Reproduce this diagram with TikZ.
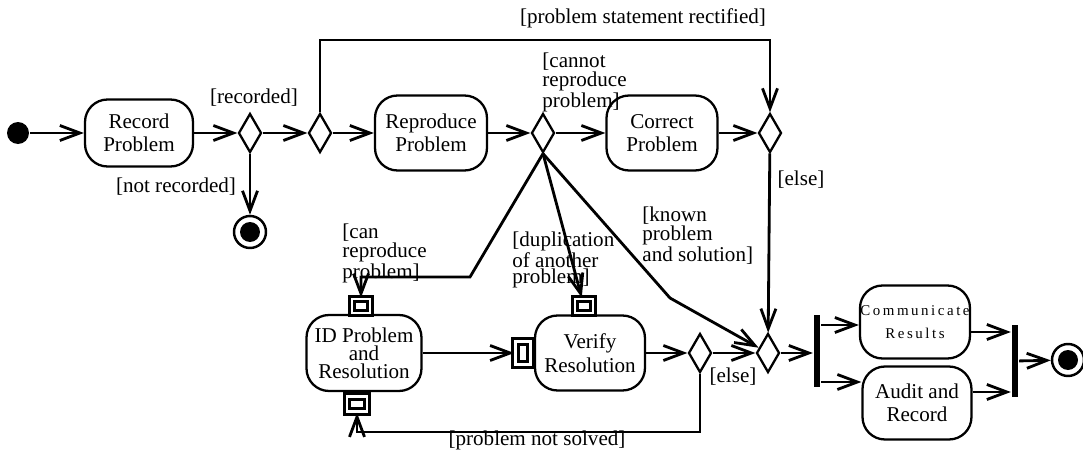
\documentclass[tikz,border=0pt]{standalone}
\usepackage{fontspec}
\setmainfont{Liberation Serif}
\usetikzlibrary{arrows.meta,shapes.geometric}

\begin{document}
\begin{tikzpicture}[x=0.02cm,y=-0.02cm,>={Straight Barb[length=4mm,width=3mm]},
  line width=1.6pt,font=\fontsize{12}{13}\selectfont,
  action/.style={draw,line width=1.3pt,rounded corners=0.45cm,align=center,inner sep=0pt},
  choice/.style={diamond,draw,line width=1.3pt,inner sep=0pt,minimum width=0.46cm,minimum height=0.78cm,fill=white},
  pin/.style={draw,double,double distance=1.5pt,line width=1.6pt,inner sep=0pt,fill=white},
  bar/.style={fill,inner sep=0pt,minimum width=0.11cm,minimum height=1.46cm},
  guard/.style={inner sep=0pt,align=left,font=\fontsize{12}{9.6}\selectfont},
  start/.style={circle,fill,inner sep=0pt,minimum size=0.44cm},
  final/.style={circle,draw,line width=1.4pt,inner sep=0pt,minimum size=0.64cm,
    path picture={\fill (path picture bounding box.center) circle (0.2cm);}}]
\useasboundingbox (0,0) rectangle (1083,450);

% top row
\node[start] (st) at (18,133) {};
\node[action,minimum width=2.16cm,minimum height=1.34cm] (rec) at (139,133) {Record\\Problem};
\node[choice] (d1) at (250,133) {};
\node[final] (fin1) at (250,232) {};
\node[choice] (d2) at (320,133) {};
\node[action,minimum width=2.24cm,minimum height=1.5cm] (repro) at (431,133) {Reproduce\\Problem};
\node[choice] (d4) at (543,133) {};
\node[action,minimum width=2.22cm,minimum height=1.5cm] (corr) at (662,133) {Correct\\Problem};
\node[choice] (d3) at (770,133) {};

% bottom row
\node[action,minimum width=2.3cm,minimum height=1.52cm,font=\fontsize{12}{10.2}\selectfont] (idr) at (364,353) {ID Problem\\and\\Resolution};
\node[action,minimum width=2.2cm,minimum height=1.5cm,font=\fontsize{12}{14}\selectfont] (ver) at (590,353) {Verify\\Resolution};
\node[pin,minimum width=0.36cm,minimum height=0.28cm] (pinA) at (361,306) {};
\node[pin,minimum width=0.4cm,minimum height=0.3cm] (pinD) at (357,404) {};
\node[pin,minimum width=0.36cm,minimum height=0.28cm] (pinB) at (584,306) {};
\node[pin,minimum width=0.3cm,minimum height=0.46cm] (pinC) at (523,353) {};
\node[choice] (d6) at (700,353) {};
\node[choice] (d5) at (768,353) {};
\node[bar] (bar1) at (817,351) {};
\node[action,minimum width=2.2cm,minimum height=1.46cm,font=\fontsize{8.5}{13}\selectfont\addfontfeature{LetterSpace=17}] (comm) at (915,322) {Communicate\\Results};
\node[action,minimum width=2.18cm,minimum height=1.46cm] (aud) at (917,403) {Audit and\\Record};
\node[bar] (bar2) at (1015,361) {};
\node[final] (fin2) at (1068,360) {};

% bend points and heights
\coordinate (rectTop) at (545,40);
\coordinate (bendA) at (470,277);
\coordinate (bendB) at (670,298);
\coordinate (loopBot) at (700,432);
\coordinate (forkA) at (0,325);
\coordinate (forkB) at (0,382);
\coordinate (joinA) at (0,332);
\coordinate (joinB) at (0,392);

% guards
\node[guard] (gRec) at (254,98) {[recorded]};
\node[guard] (gNot) at (176,187) {[not recorded]};
\node[guard] (gRect) at (643,18) {[problem statement rectified]};
\node[guard,anchor=north west] (gCannot) at (541,51) {[cannot\\reproduce\\problem]};
\node[guard] (gElseA) at (801,180) {[else]};
\node[guard,anchor=north west] (gCan) at (341,222) {[can\\reproduce\\problem]};
\node[guard,anchor=north west] (gDup) at (511,230) {[duplication\\of another\\problem]};
\node[guard,anchor=north west] (gKnown) at (641,205) {[known\\problem\\and solution]};
\node[guard] (gElseB) at (733,377) {[else]};
\node[guard] (gNotSolved) at (537,440) {[problem not solved]};

% flows
\draw[->] (st) -- (rec);
\draw[->] (rec) -- (d1);
\draw[->] (d1.south) -- (fin1);
\draw[->] (d1) -- (d2);
\draw[->] (d2) -- (repro);
\draw[->] (d2.north) -- (d2.north |- rectTop) -- (rectTop -| d3.north) -- (d3.north);
\draw[->] (repro) -- (d4);
\draw[->] (d4) -- (corr);
\draw[->] (corr) -- (d3);
\draw[->] (d3) -- (d5);
\draw[->] (d4.south) -- (bendA) -- (bendA -| pinA) -- (pinA);
\draw[->] (d4.south) -- (pinB);
\draw[->] (d4.south) -- (bendB) -- (d5);
\draw[->] (idr) -- (pinC);
\draw[->] (ver) -- (d6);
\draw[->] (d6) -- (d5);
\draw[->] (d6.south) -- (loopBot) -- (loopBot -| pinD) -- (pinD);
\draw[->] (d5.east) -- (d5.east -| bar1.west);
\draw[->] (bar1.east |- forkA) -- (comm.west |- forkA);
\draw[->] (bar1.east |- forkB) -- (aud.west |- forkB);
\draw[->] (comm.east |- joinA) -- (bar2.west |- joinA);
\draw[->] (aud.east |- joinB) -- (bar2.west |- joinB);
\draw[->] (bar2) -- (fin2);
\end{tikzpicture}
\end{document}
